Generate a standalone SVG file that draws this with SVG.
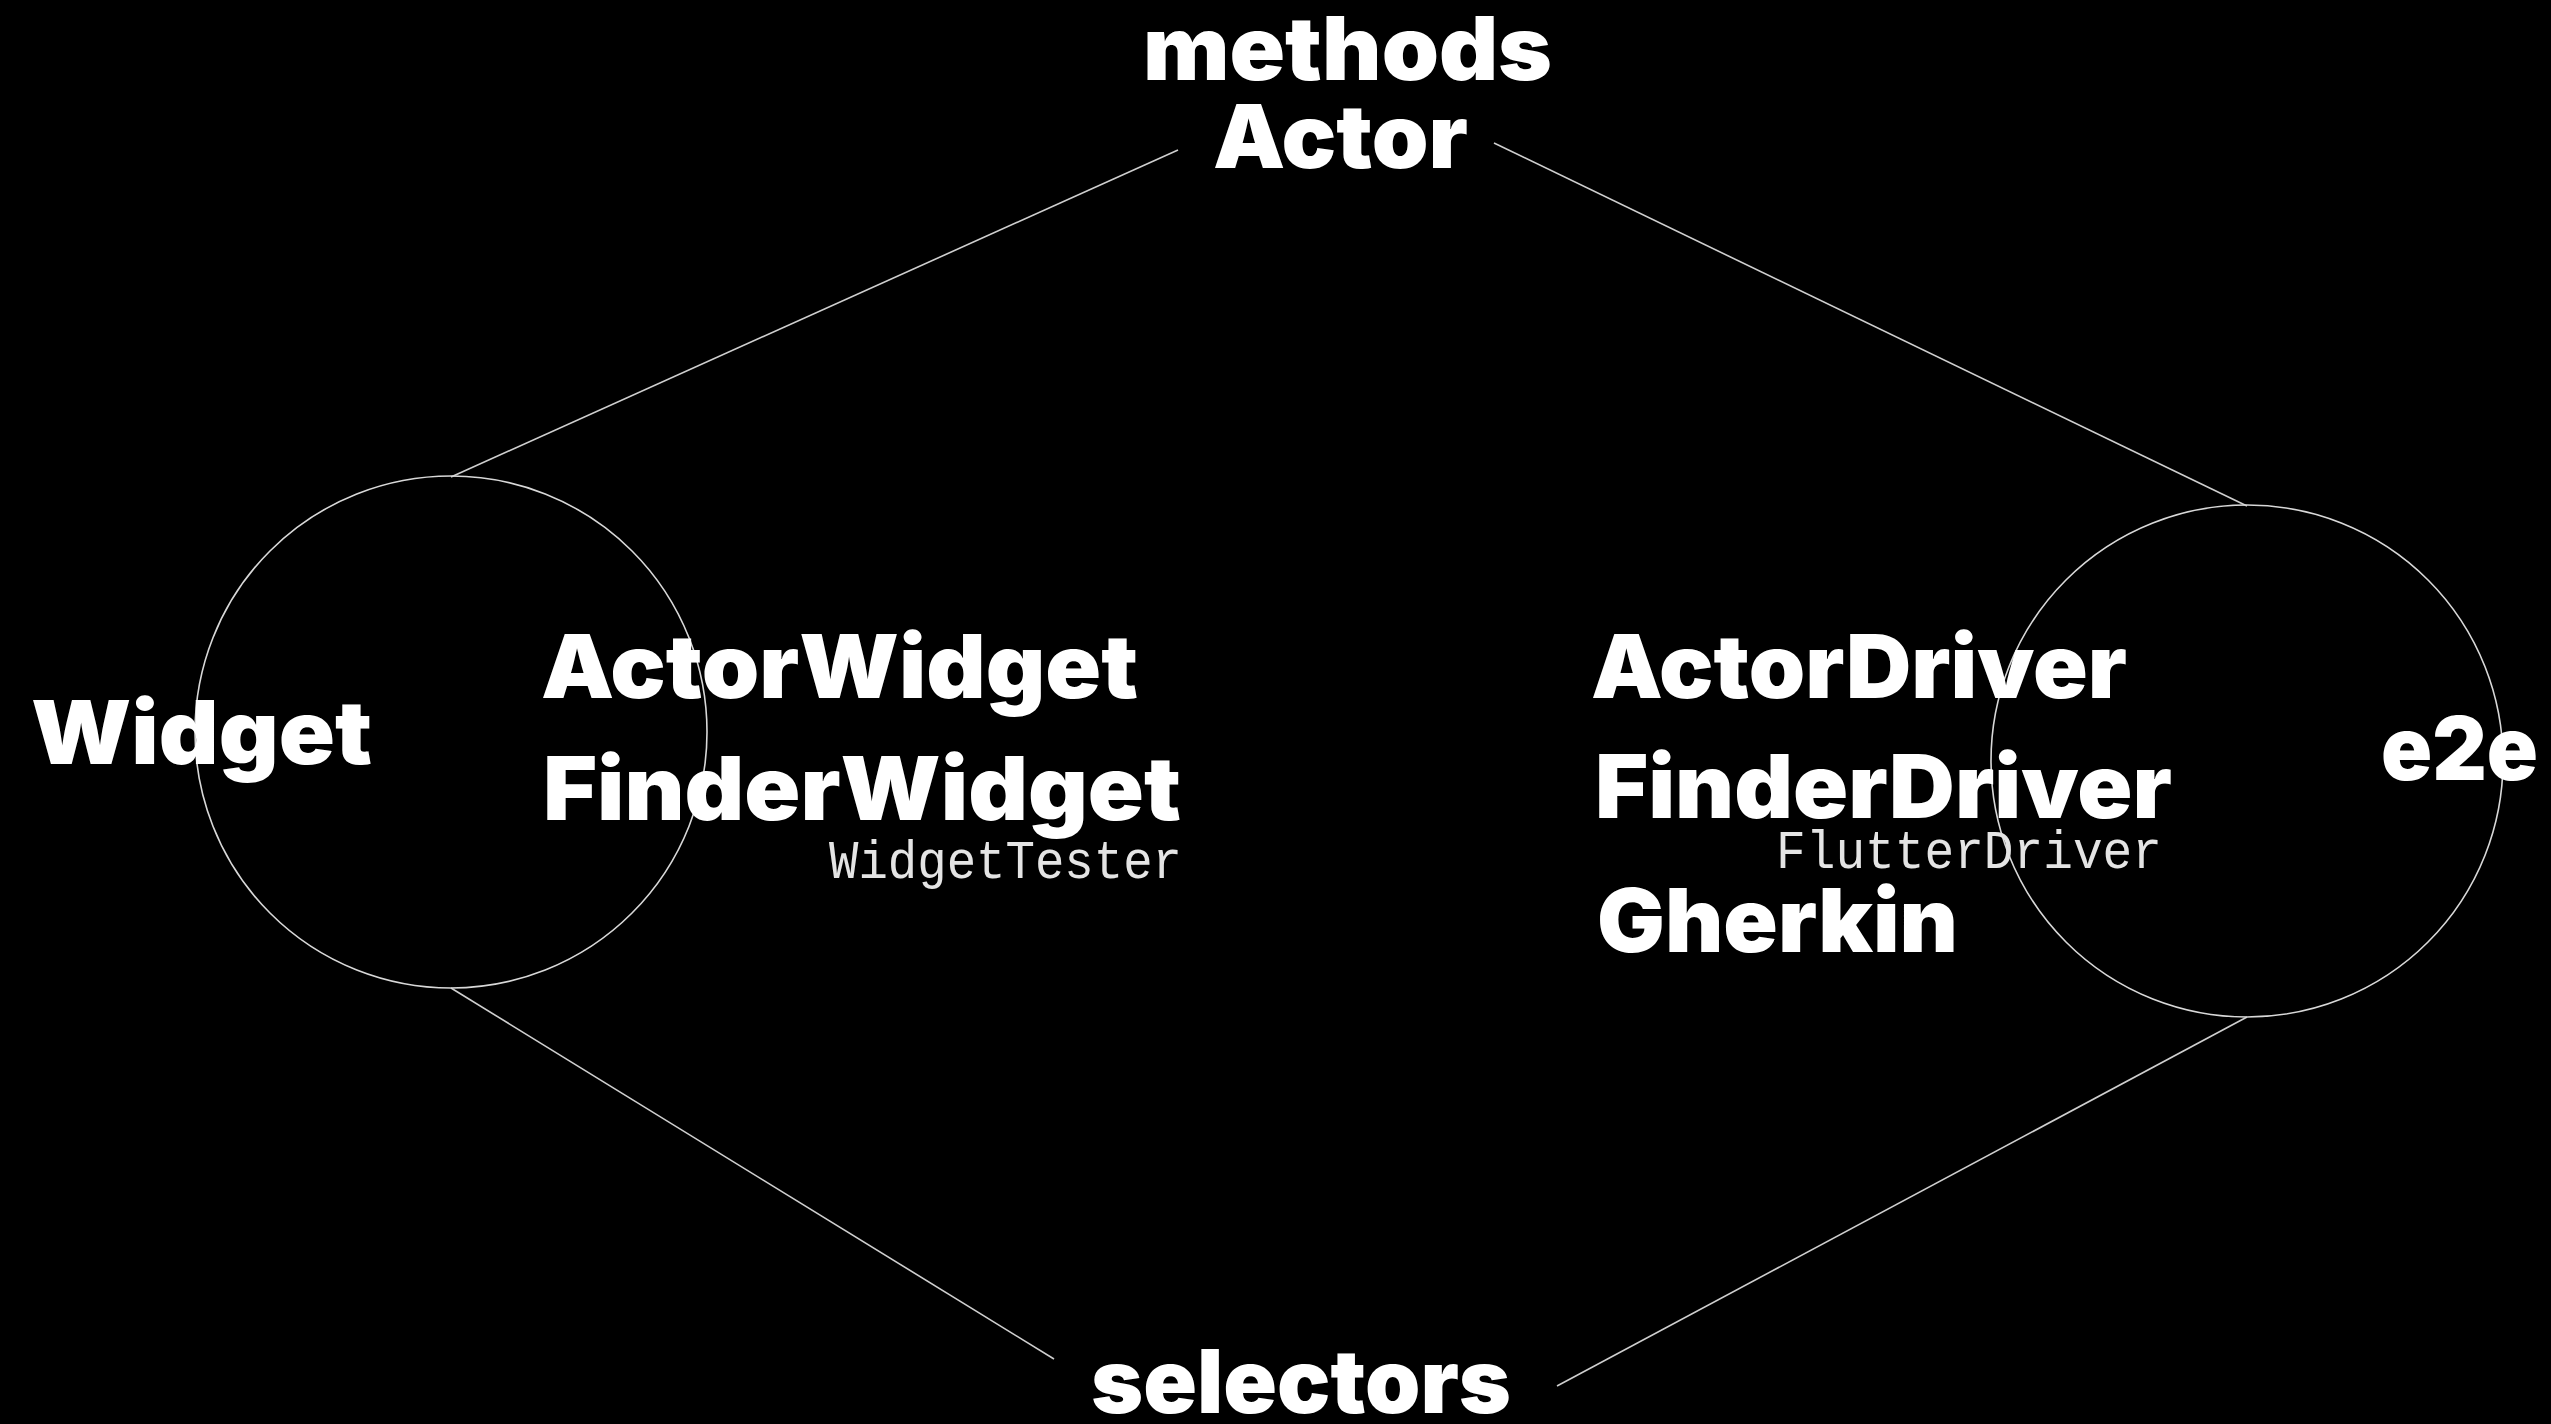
<svg xmlns="http://www.w3.org/2000/svg" width="2551" height="1424" viewBox="0 0 2551 1424">
  <style>
    .bg { fill: #000000; }
    .ring { fill: none; stroke: #d8d8d8; stroke-width: 1.6; }
    .edge { fill: none; stroke: #cfcfcf; stroke-width: 1.6; }
    .bold { font-family: Inter, "Open Sans", "DejaVu Sans", sans-serif; font-weight: 900; font-size: 88px; fill: #ffffff; }
    .mono { font-family: "Liberation Mono", "DejaVu Sans Mono", monospace; font-weight: 400; font-size: 54px; fill: #e4e4e4; }
  </style>
  <rect class="bg" x="0" y="0" width="2551" height="1424"/>

  <!-- connectors between the corner labels and the two rings -->
  <g id="connectors">
    <line class="edge" x1="1178" y1="150" x2="451" y2="477"/>
    <line class="edge" x1="1494" y1="143" x2="2247" y2="506"/>
    <line class="edge" x1="451" y1="988" x2="1054" y2="1359"/>
    <line class="edge" x1="2247" y1="1017" x2="1557" y2="1386"/>
  </g>

  <g id="methods-actor">
    <text class="bold" x="1143" y="80" textLength="409" lengthAdjust="spacingAndGlyphs">methods</text>
    <text class="bold" x="1213" y="168" textLength="255" lengthAdjust="spacingAndGlyphs">Actor</text>
  </g>

  <g id="widget">
    <circle class="ring" cx="451" cy="732" r="256"/>
    <text class="bold" x="31" y="764" textLength="341" lengthAdjust="spacingAndGlyphs">Widget</text>
  </g>

  <g id="widget-tools">
    <text class="bold" x="541" y="698" textLength="597" lengthAdjust="spacingAndGlyphs">ActorWidget</text>
    <text class="bold" x="543" y="820" textLength="638" lengthAdjust="spacingAndGlyphs">FinderWidget</text>
    <text class="mono" x="829" y="878" textLength="353" lengthAdjust="spacingAndGlyphs">WidgetTester</text>
  </g>

  <g id="e2e">
    <circle class="ring" cx="2247" cy="761" r="256"/>
    <text class="bold" x="2381" y="780" textLength="157" lengthAdjust="spacingAndGlyphs">e2e</text>
  </g>

  <g id="driver-tools">
    <text class="bold" x="1591" y="698" textLength="536" lengthAdjust="spacingAndGlyphs">ActorDriver</text>
    <text class="bold" x="1595" y="818" textLength="577" lengthAdjust="spacingAndGlyphs">FinderDriver</text>
    <text class="mono" x="1776" y="868" textLength="386" lengthAdjust="spacingAndGlyphs">FlutterDriver</text>
    <text class="bold" x="1597" y="952" textLength="361" lengthAdjust="spacingAndGlyphs">Gherkin</text>
  </g>

  <g id="selectors">
    <text class="bold" x="1091" y="1413" textLength="420" lengthAdjust="spacingAndGlyphs">selectors</text>
  </g>
</svg>
